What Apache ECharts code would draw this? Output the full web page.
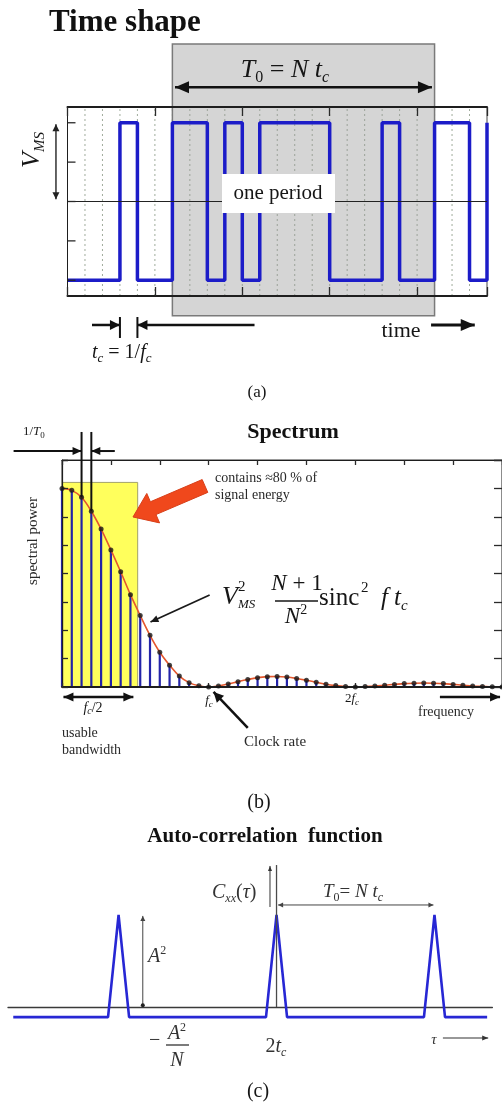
<!DOCTYPE html>
<html>
<head>
<meta charset="utf-8">
<script src="https://cdn.jsdelivr.net/npm/echarts@6/dist/echarts.min.js"></script>
<style>
  html, body { margin: 0; padding: 0; background: #ffffff; }
  #chart { width: 502px; height: 1110px; }
</style>
</head>
<body>
<div id="chart"></div>
<script>
// ---------- (a) Time shape: a 15-chip maximal-length sequence, repeated ----------
const chipIndex = [0, 1, 2, 3, 4, 5, 6, 7, 8, 9, 10, 11, 12, 13, 14, 15, 16, 17, 18, 19, 20, 21, 22, 23, 24];
const chipLevels = [-1, -1, -1, 1, -1, -1, 1, 1, -1, 1, -1, 1, 1, 1, 1, -1, -1, -1, 1, -1, -1, 1, 1, -1, 1];
const chipEdges = [1, 2, 3, 4, 5, 6, 7, 8, 9, 10, 11, 12, 13, 14, 15, 16, 17, 18, 19, 20, 21, 22, 23];
const levelTicks = [-1, -0.5, 0, 0.5, 1];
const periodChips = [6, 21];

// ---------- (b) Spectrum: line spectrum at multiples of 1/T0 (15 lines per clock rate) ----------
const harmonics = [0, 1, 2, 3, 4, 5, 6, 7, 8, 9, 10, 11, 12, 13, 14, 15, 16, 17, 18, 19, 20, 21, 22,
  23, 24, 25, 26, 27, 28, 29, 30, 31, 32, 33, 34, 35, 36, 37, 38, 39, 40, 41, 42, 43, 44, 45];
const linePower = [1.00, 0.99, 0.955, 0.885, 0.795, 0.69, 0.58, 0.465, 0.36, 0.26, 0.175, 0.11, 0.055, 0.022, 0.006, 0,
  0.005, 0.015, 0.027, 0.038, 0.047, 0.052, 0.053, 0.05, 0.043, 0.034, 0.024, 0.014, 0.007, 0.002, 0,
  0.002, 0.005, 0.009, 0.013, 0.017, 0.019, 0.02, 0.019, 0.017, 0.013, 0.009, 0.005, 0.003, 0.001, 0];
const usableBand = [0, 7.74];

// ---------- (c) Auto-correlation: triangular peaks every period ----------
const lagPoints = [-25, -16, -15, -14, -1, 0, 1, 14, 15, 16, 20];
const corrValues = [-0.11, -0.11, 1, -0.11, -0.11, 1, -0.11, -0.11, 1, -0.11, -0.11];

const SERIF = "'Liberation Serif', 'Times New Roman', serif";
const INK = '#161616';

function font(size, style, weight) {
  return { fontFamily: SERIF, fontSize: size, fontStyle: style || 'normal', fontWeight: weight || 'normal' };
}
function label(x, y, text, size, o) {
  o = o || {};
  const st = Object.assign(font(size, o.italic ? 'italic' : 'normal', o.bold ? 'bold' : 'normal'), {
    text: text, fill: o.color || INK,
    align: o.align || 'left', verticalAlign: 'middle',
    textAlign: o.align || 'left', textVerticalAlign: 'middle'
  });
  if (o.rich) st.rich = o.rich;
  return { type: 'text', x: x, y: y, z: 100, rotation: o.rotation || 0, silent: true, style: st };
}
function mathRich(size, sub, color) {
  color = color || INK;
  const lh = Math.round(size * 1.2);
  const c = { fill: color, color: color };
  return {
    i: Object.assign(font(size, 'italic'), { lineHeight: lh }, c),
    n: Object.assign(font(size), { lineHeight: lh }, c),
    s: Object.assign(font(sub, 'italic'), { lineHeight: sub, verticalAlign: 'bottom' }, c),
    u: Object.assign(font(sub), { lineHeight: sub, verticalAlign: 'bottom' }, c),
    p: Object.assign(font(sub), { lineHeight: sub, verticalAlign: 'top' }, c)
  };
}
function rule(x1, y1, x2, y2, w, color) {
  return { type: 'line', z: 100, silent: true, shape: { x1: x1, y1: y1, x2: x2, y2: y2 },
    style: { stroke: color || INK, lineWidth: w || 1.2 } };
}

// drawing helpers used inside custom series (pixel points come from api.coord)
function seg(p0, p1, color, width, dash) {
  return { type: 'line', shape: { x1: p0[0], y1: p0[1], x2: p1[0], y2: p1[1] },
    style: { stroke: color, lineWidth: width, lineDash: dash || null } };
}
function head(tip, from, len, half, color) {
  const dx = tip[0] - from[0], dy = tip[1] - from[1];
  const L = Math.hypot(dx, dy) || 1;
  const ux = dx / L, uy = dy / L;
  const bx = tip[0] - ux * len, by = tip[1] - uy * len;
  return { type: 'polygon', shape: { points: [tip, [bx - uy * half, by + ux * half], [bx + uy * half, by - ux * half]] },
    style: { fill: color } };
}
function arrow(p0, p1, color, width, len, half, both) {
  const out = [seg(p0, p1, color, width), head(p1, p0, len, half, color)];
  if (both) out.push(head(p0, p1, len, half, color));
  return out;
}
function overlay(xi, yi, z, draw) {
  return { type: 'custom', xAxisIndex: xi, yAxisIndex: yi, z: z, clip: false, silent: true,
    data: [[0, 0]], renderItem: function (params, api) { return { type: 'group', children: draw(api) }; } };
}

function frameAxis(gridIndex, position, min, max, interval, lineWidth, tickLen) {
  const ax = { gridIndex: gridIndex, type: 'value', position: position, min: min, max: max, z: 5,
    axisLine: { show: true, onZero: false, lineStyle: { color: '#1e1e1e', width: lineWidth } },
    axisTick: { show: tickLen > 0, inside: true, length: tickLen, lineStyle: { color: '#2a2a2a', width: 1.3 } },
    axisLabel: { show: false }, splitLine: { show: false } };
  if (interval) ax.interval = interval;
  return ax;
}

const chart = echarts.init(document.getElementById('chart'), null, { renderer: 'canvas', width: 502, height: 1110 });

const option = {
  backgroundColor: '#ffffff',
  animation: false,
  grid: [
    { left: 67.5, top: 107, width: 419.5, height: 189, show: true, borderColor: '#444', borderWidth: 1, containLabel: false, outerBoundsMode: 'none' },
    { left: 62, top: 460, width: 440, height: 227, show: true, borderColor: '#333', borderWidth: 1, containLabel: false, outerBoundsMode: 'none' },
    { left: 8, top: 915, width: 484.4, height: 110.4, show: false, containLabel: false, outerBoundsMode: 'none' }
  ],
  xAxis: [
    frameAxis(0, 'bottom', 0, 24, 5, 2, 9),
    frameAxis(0, 'top', 0, 24, 5, 2, 9),
    frameAxis(1, 'bottom', 0, 45, 15, 2, 4),
    frameAxis(1, 'top', 0, 45, 5, 1.2, 5),
    { gridIndex: 2, type: 'value', min: -25.5, max: 20.5, z: 1,
      axisLine: { show: true, onZero: true, lineStyle: { color: '#3a3a3a', width: 1.3 } },
      axisTick: { show: false }, axisLabel: { show: false }, splitLine: { show: false } }
  ],
  yAxis: [
    frameAxis(0, 'left', -1.2, 1.2, null, 1, 0),
    frameAxis(1, 'left', 0, 8 / 7, 1 / 7, 1.2, 6),
    frameAxis(1, 'right', 0, 8 / 7, 1 / 7, 1.2, 8),
    { gridIndex: 2, type: 'value', min: -0.2, max: 1,
      axisLine: { show: false }, axisTick: { show: false }, axisLabel: { show: false }, splitLine: { show: false } }
  ],
  series: [
    // ----- (a) -----
    { type: 'custom', xAxisIndex: 0, yAxisIndex: 0, z: 0, silent: true,
      data: chipEdges.map(function (c) { return [c, 0]; }),
      renderItem: function (params, api) {
        const c = api.value(0);
        return seg(api.coord([c, -1.2]), api.coord([c, 1.2]), '#9fab9b', 1, [2, 3]);
      } },
    overlay(0, 0, 1, function (api) {
      const a = api.coord([periodChips[0], 2.0]), b = api.coord([periodChips[1], -1.45]);
      return [{ type: 'rect', shape: { x: a[0], y: a[1], width: b[0] - a[0], height: b[1] - a[1] },
        style: { fill: 'rgba(150,150,150,0.40)', stroke: '#7a7a7a', lineWidth: 1.5 } }];
    }),
    { type: 'line', xAxisIndex: 0, yAxisIndex: 0, z: 3, step: 'end', symbol: 'none', silent: true,
      data: chipIndex.map(function (c, i) { return [c, chipLevels[i]]; }),
      lineStyle: { color: '#1c1cc8', width: 3.5 },
      markLine: { silent: true, symbol: 'none', label: { show: false },
        lineStyle: { color: '#222', width: 1.2, type: 'solid' }, data: [{ yAxis: 0 }] } },
    { type: 'custom', xAxisIndex: 0, yAxisIndex: 0, z: 5, silent: true,
      data: levelTicks.map(function (v) { return [0, v]; }),
      renderItem: function (params, api) {
        const p = api.coord([0, api.value(1)]);
        return seg(p, [p[0] + 8, p[1]], '#2a2a2a', 1.3);
      } },
    overlay(0, 0, 6, function (api) {
      const C = function (x, y) { return api.coord([x, y]); };
      let out = [];
      out = out.concat(arrow(C(6.15, 1.45), C(20.85, 1.45), '#111', 2.5, 14, 6, true));
      out = out.concat(arrow(C(-0.66, 0.03), C(-0.66, 0.98), '#222', 1.4, 7, 3.5, true));
      out = out.concat(arrow(C(1.4, -1.568), C(3, -1.568), '#111', 2.5, 10, 5));
      out = out.concat(arrow(C(10.7, -1.568), C(4, -1.568), '#111', 2.5, 10, 5));
      out.push(seg(C(3, -1.467), C(3, -1.733), '#111', 2));
      out.push(seg(C(4, -1.467), C(4, -1.733), '#111', 2));
      out = out.concat(arrow(C(20.8, -1.568), C(23.3, -1.568), '#111', 3, 14, 6));
      return out;
    }),

    // ----- (b) -----
    overlay(2, 1, 1, function (api) {
      const a = api.coord([usableBand[0], 1.03]), b = api.coord([usableBand[1], 0]);
      return [{ type: 'rect', shape: { x: a[0], y: a[1], width: b[0] - a[0], height: b[1] - a[1] },
        style: { fill: '#ffff5c', stroke: '#a3a36a', lineWidth: 1 } }];
    }),
    { type: 'custom', xAxisIndex: 2, yAxisIndex: 1, z: 3, silent: true,
      data: harmonics.map(function (h, i) { return [h, linePower[i]]; }),
      renderItem: function (params, api) {
        const h = api.value(0);
        return seg(api.coord([h, 0]), api.coord([h, api.value(1)]), '#2323a8', 2.2);
      } },
    { type: 'line', xAxisIndex: 2, yAxisIndex: 1, z: 4, smooth: 0.35, symbol: 'none', silent: true,
      data: harmonics.map(function (h, i) { return [h, linePower[i]]; }),
      lineStyle: { color: '#e4572e', width: 1.6 } },
    { type: 'scatter', xAxisIndex: 2, yAxisIndex: 1, z: 5, symbolSize: 5, silent: true,
      data: harmonics.map(function (h, i) { return [h, linePower[i]]; }),
      itemStyle: { color: '#151515' } },
    overlay(2, 1, 6, function (api) {
      const C = function (x, y) { return api.coord([x, y]); };
      let out = [];
      // 1/T0 spacing marker on two neighbouring lines
      out.push(seg(C(harmonics[2], 1.284), C(harmonics[2], linePower[2]), '#111', 2));
      out.push(seg(C(harmonics[3], 1.284), C(harmonics[3], linePower[3]), '#111', 2));
      out = out.concat(arrow(C(-4.95, 1.188), C(harmonics[2], 1.188), '#111', 2, 9, 4));
      out = out.concat(arrow(C(5.4, 1.188), C(harmonics[3], 1.188), '#111', 2, 9, 4));
      // block arrow pointing at the usable band
      const t = C(7.26, 0.856);
      const rel = [[0, 0], [13.8, -23.5], [17.4, -15.2], [69.2, -37.4], [74.8, -24.6], [23, -2.4], [26.6, 5.9]];
      out.push({ type: 'polygon', shape: { points: rel.map(function (d) { return [t[0] + d[0], t[1] + d[1]]; }) },
        style: { fill: '#f0481c', stroke: '#d8401a', lineWidth: 1 } });
      // leader from the formula to the envelope
      out = out.concat(arrow(C(15.1, 0.463), C(9.05, 0.327), '#1a1a1a', 1.8, 8, 3.5));
      // f_c/2 span
      out = out.concat(arrow(C(0.15, -0.05), C(7.3, -0.05), '#111', 2.5, 10, 4.5, true));
      // clock rate pointer
      out = out.concat(arrow(C(19.0, -0.206), C(15.5, -0.025), '#111', 2.5, 10, 5));
      // frequency direction
      out = out.concat(arrow(C(38.65, -0.05), C(44.8, -0.05), '#111', 2.5, 10, 4.5));
      return out;
    }),

    // ----- (c) -----
    { type: 'line', xAxisIndex: 4, yAxisIndex: 3, z: 3, symbol: 'none', silent: true,
      data: lagPoints.map(function (t, i) { return [t, corrValues[i]]; }),
      lineStyle: { color: '#2727d4', width: 2.6 } },
    overlay(4, 3, 6, function (api) {
      const C = function (x, y) { return api.coord([x, y]); };
      let out = [];
      out.push(seg(C(0, 0), C(0, 1.543), '#4a4a4a', 1.3));
      out = out.concat(arrow(C(-0.62, 1.087), C(-0.62, 1.533), '#333', 1, 5, 2));
      out = out.concat(arrow(C(0.15, 1.109), C(14.9, 1.109), '#444', 1, 5, 2.5, true));
      out = out.concat(arrow(C(-12.7, 0.02), C(-12.7, 0.99), '#444', 1, 5, 2.5));
      const d = C(-12.7, 0.02);
      out.push({ type: 'circle', shape: { cx: d[0], cy: d[1], r: 2 }, style: { fill: '#222' } });
      out = out.concat(arrow(C(15.8, -0.337), C(20.1, -0.337), '#333', 1.2, 6, 2.5));
      return out;
    })
  ],
  graphic: { elements: [
    // (a)
    label(49, 23, 'Time shape', 31, { bold: true, color: '#111' }),
    label(285, 70, '{i|T}{u|0}{n| = }{i|N t}{s|c}', 26, { align: 'center', rich: mathRich(26, 16) }),
    { type: 'rect', z: 99, silent: true, shape: { x: 222, y: 174, width: 113, height: 39 }, style: { fill: '#ffffff' } },
    label(278, 193, 'one period', 21, { align: 'center' }),
    label(32, 150, '{i|V}{s|MS}', 26, { align: 'center', rotation: Math.PI / 2, rich: mathRich(26, 15) }),
    label(92, 353, '{i|t}{s|c}{n| = 1/}{i|f}{s|c}', 20, { rich: mathRich(20, 13) }),
    label(401, 331, 'time', 22, { align: 'center' }),
    label(257, 393, '(a)', 17, { align: 'center' }),

    // (b)
    label(293, 432, 'Spectrum', 22, { bold: true, align: 'center', color: '#111' }),
    label(23, 432, '{n|1/}{i|T}{u|0}', 13, { rich: mathRich(13, 9, '#222') }),
    label(215, 478, 'contains \u224880 % of', 14, { color: '#2a2a2a' }),
    label(215, 495, 'signal energy', 14, { color: '#2a2a2a' }),
    label(222, 597, 'V', 26, { italic: true }),
    label(238, 587, '2', 15),
    label(238, 605, 'MS', 13, { italic: true }),
    label(297, 584, '{i|N}{n| + 1}', 23, { align: 'center', rich: mathRich(23, 14) }),
    rule(275, 601, 318, 601, 1.4),
    label(296, 617, '{i|N}{p|2}', 23, { align: 'center', rich: mathRich(23, 14) }),
    label(319, 598, 'sinc', 25),
    label(361, 588, '2', 15),
    label(381, 598, 'f', 25, { italic: true }),
    label(394, 598, 't', 25, { italic: true }),
    label(401, 606, 'c', 15, { italic: true }),
    label(33, 541, 'spectral power', 15, { align: 'center', rotation: Math.PI / 2, color: '#2a2a2a' }),
    label(93, 708, '{i|f}{s|c}{n|/2}', 14, { align: 'center', rich: mathRich(14, 10) }),
    label(62, 733, 'usable', 14, { color: '#2a2a2a' }),
    label(62, 750, 'bandwidth', 14, { color: '#2a2a2a' }),
    label(209, 701, '{i|f}{s|c}', 13, { align: 'center', rich: mathRich(13, 9) }),
    label(352, 699, '{n|2}{i|f}{s|c}', 13, { align: 'center', rich: mathRich(13, 9) }),
    label(244, 742, 'Clock rate', 15, { color: '#2a2a2a' }),
    label(418, 712, 'frequency', 14, { color: '#2a2a2a' }),
    label(259, 803, '(b)', 20, { align: 'center' }),

    // (c)
    label(265, 837, 'Auto-correlation  function', 21, { bold: true, align: 'center', color: '#111' }),
    label(212, 893, '{i|C}{s|xx}{n|(}{i|\u03c4}{n|)}', 20, { rich: mathRich(20, 12, '#333') }),
    label(323, 892, '{i|T}{u|0}{n|= }{i|N t}{s|c}', 19, { rich: mathRich(19, 12, '#333') }),
    label(148, 957, '{i|A}{p|2}', 20, { rich: mathRich(20, 12, '#333') }),
    label(149, 1041, '\u2212', 20, { color: '#333' }),
    label(177, 1034, '{i|A}{p|2}', 20, { align: 'center', rich: mathRich(20, 12, '#333') }),
    rule(166, 1045, 189, 1045, 1.3, '#333'),
    label(177, 1061, 'N', 20, { italic: true, align: 'center', color: '#333' }),
    label(276, 1047, '{n|2}{i|t}{s|c}', 20, { align: 'center', rich: mathRich(20, 12, '#333') }),
    label(434, 1040, '\u03c4', 15, { italic: true, align: 'center', color: '#333' }),
    label(258, 1092, '(c)', 20, { align: 'center' })
  ] }
};

chart.setOption(option);
</script>
</body>
</html>
